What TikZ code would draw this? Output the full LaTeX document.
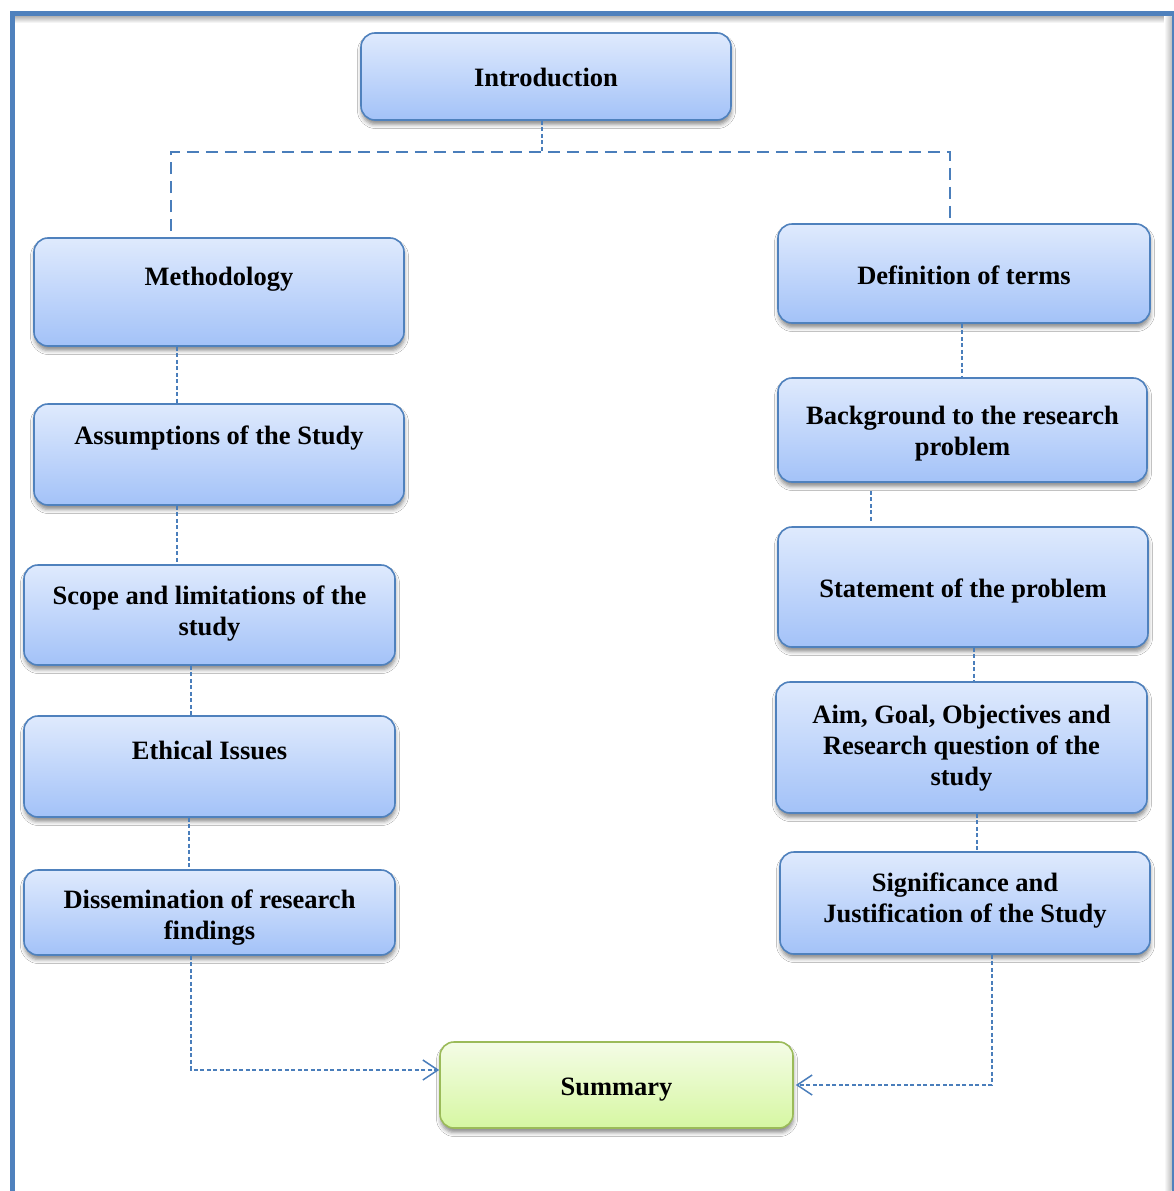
\documentclass[tikz,border=0pt]{standalone}
\usepackage{fontspec}
\setmainfont{Liberation Serif}
\usetikzlibrary{arrows.meta,shadows.blur}

\definecolor{boxline}{HTML}{4F81BD}
\definecolor{boxtop}{HTML}{DFEAFD}
\definecolor{boxbot}{HTML}{A3C2F8}
\definecolor{sumline}{HTML}{9BBB59}
\definecolor{sumtop}{HTML}{F4FCE6}
\definecolor{sumbot}{HTML}{D6F7A2}
\definecolor{linkcol}{HTML}{4A7EBB}
\definecolor{framecol}{HTML}{4F81BD}

\tikzset{
  panel/.style={draw=boxline, line width=1.6pt, rounded corners=14pt,
    top color=boxtop, bottom color=boxbot, inner sep=0pt,
    blur shadow={shadow xshift=0.5pt, shadow yshift=-4.5pt,
      shadow opacity=45, shadow blur radius=4pt}},
  sumpanel/.style={panel, draw=sumline, top color=sumtop, bottom color=sumbot},
  label text/.style={font=\fontsize{26.5}{31}\selectfont\bfseries,
    align=center, anchor=base, inner sep=0pt},
  link/.style={draw=linkcol, line width=1.5pt, dash pattern=on 4pt off 2.5pt},
  trunk/.style={draw=linkcol, line width=2pt, dash pattern=on 12pt off 7pt},
  arrowlink/.style={link, -{Straight Barb[length=15pt,width=20pt,line width=1.5pt]}},
}

\begin{document}
\begin{tikzpicture}[x=1pt, y=-1pt]
  \useasboundingbox (0,0) rectangle (1173,1191);
  \fill[white] (0,0) rectangle (1173,1191);

  % page frame with its soft inner shade
  \shade[top color=black!30, bottom color=white] (15,16) rectangle (1171,23);
  \shade[left color=white, right color=black!25] (1164,16) rectangle (1171.5,1191);
  \draw[framecol, line width=5pt] (12.5,1200) -- (12.5,13.5) -- (1174,13.5) -- (1174,1200);

  % boxes
  \node[panel, minimum width=370pt, minimum height=87pt]  (intro) at (546,76.5)  {};
  \node[panel, minimum width=370pt, minimum height=108pt] (meth)  at (219,292)   {};
  \node[panel, minimum width=370pt, minimum height=101pt] (assum) at (219,454.5) {};
  \node[panel, minimum width=371pt, minimum height=100pt] (scope) at (209.5,615) {};
  \node[panel, minimum width=371pt, minimum height=101pt] (eth)   at (209.5,766.5) {};
  \node[panel, minimum width=371pt, minimum height=85pt]  (diss)  at (209.5,912.5) {};
  \node[panel, minimum width=372pt, minimum height=99pt]  (defn)  at (964,273.5) {};
  \node[panel, minimum width=369pt, minimum height=104pt] (bg)    at (962.5,430) {};
  \node[panel, minimum width=370pt, minimum height=120pt] (stmt)  at (963,587)   {};
  \node[panel, minimum width=371pt, minimum height=131pt] (aim)   at (961.5,747.5) {};
  \node[panel, minimum width=370pt, minimum height=102pt] (sig)   at (965,903)   {};
  \node[sumpanel, minimum width=353pt, minimum height=86pt] (summ) at (616.5,1085) {};

  % box labels (placed on the baseline of their last line)
  \node[label text] (intro-t) at (546,86.7)  {Introduction};
  \node[label text] (meth-t)  at (219,285)   {Methodology};
  \node[label text] (assum-t) at (219,444)   {Assumptions of the Study};
  \node[label text] (scope-t) at (209.5,635) {Scope and limitations of the\\study};
  \node[label text] (eth-t)   at (209.5,759) {Ethical Issues};
  \node[label text] (diss-t)  at (209.5,939) {Dissemination of research\\findings};
  \node[label text] (defn-t)  at (964,284)   {Definition of terms};
  \node[label text] (bg-t)    at (962.5,455) {Background to the research\\problem};
  \node[label text] (stmt-t)  at (963,597)   {Statement of the problem};
  \node[label text] (aim-t)   at (961.5,785) {Aim, Goal, Objectives and\\Research question of the\\study};
  \node[label text] (sig-t)   at (965,922)   {Significance and\\Justification of the Study};
  \node[label text] (summ-t)  at (616.5,1095) {Summary};

  % branching from the introduction
  \coordinate (tj) at (542,152);
  \coordinate (tl) at (171,152);
  \coordinate (tr) at (950,152);
  \draw[link] (intro.south -| tj) -- (tj);
  \draw[trunk] ([yshift=6pt]meth.north -| tl) -- (tl) -- (tr) -- ([yshift=4pt]defn.north -| tr);

  % left column
  \draw[link] ([xshift=-42pt]meth.south) -- ([xshift=-42pt]assum.north);
  \draw[link] ([xshift=-42pt]assum.south) -- ([xshift=-32.5pt]scope.north);
  \draw[link] ([xshift=-18.5pt]scope.south) -- ([xshift=-18.5pt]eth.north);
  \draw[link] ([xshift=-20.5pt]eth.south) -- ([xshift=-20.5pt]diss.north);
  \draw[arrowlink] ([xshift=-18.5pt]diss.south) |- ([yshift=15pt]summ.west);

  % right column
  \draw[link] ([xshift=-2pt]defn.south) -- ([xshift=-0.5pt]bg.north);
  \draw[link] ([xshift=-91.5pt,yshift=-8pt]bg.south) -- ([xshift=-92pt,yshift=4pt]stmt.north);
  \draw[link] ([xshift=11pt]stmt.south) -- ([xshift=12.5pt]aim.north);
  \draw[link] ([xshift=15.5pt]aim.south) -- ([xshift=12pt]sig.north);
  \draw[arrowlink] ([xshift=27pt]sig.south) |- ([xshift=2pt]summ.east);
\end{tikzpicture}
\end{document}
